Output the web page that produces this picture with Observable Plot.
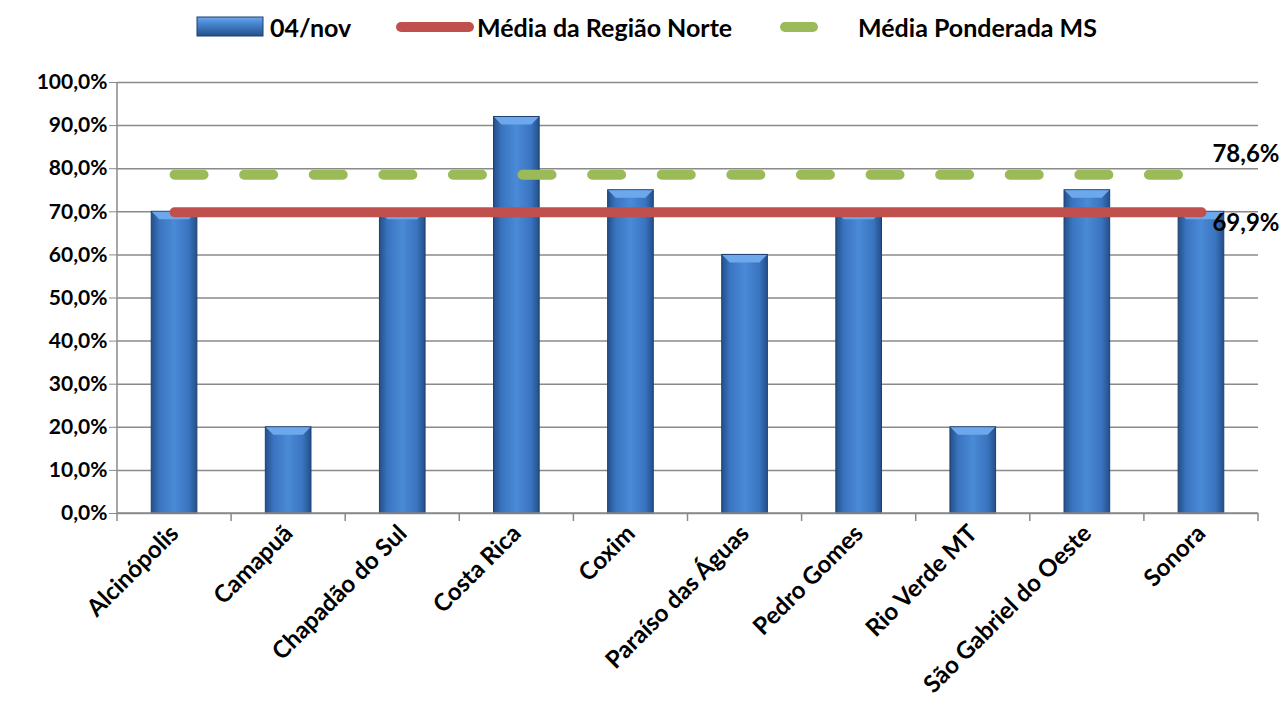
<!DOCTYPE html>
<html><head><meta charset="utf-8">
<script src="https://cdn.jsdelivr.net/npm/d3@7"></script>
<script src="https://cdn.jsdelivr.net/npm/@observablehq/plot@0.6"></script>
<style>
body{margin:0;background:#fff;font-family:Lato,"Open Sans",sans-serif;font-weight:bold;}
#legend{position:relative;height:56px;width:1281px;font-size:25px;color:#000;}
#legend .it{position:absolute;top:12px;line-height:30px;white-space:nowrap;}
#legend svg{position:absolute;}
#chart svg{display:block;}
</style></head><body>
<div id="legend"></div><div id="chart"></div>
<script>
const categories = ["Alcinópolis","Camapuã","Chapadão do Sul","Costa Rica","Coxim","Paraíso das Águas","Pedro Gomes","Rio Verde MT","São Gabriel do Oeste","Sonora"];
const values = [70,20,70,92,75,60,70,20,75,70];
const regionAvg = 69.9;
const msAvg = 78.6;
const yTicks = [0,10,20,30,40,50,60,70,80,90,100];
const seriesNames = ["04/nov","Média da Região Norte","Média Ponderada MS"];
const colors = {bar:"#3f7cc8", region:"#c0504d", ms:"#9bbb59"};

const fmt = d => d.toFixed(1).replace(".", ",") + "%";
const bars = categories.map((c,i)=>({cat:c, v:values[i]}));
const regionLine = categories.map(c=>({cat:c, v:regionAvg}));
const msLine = categories.map(c=>({cat:c, v:msAvg}));
const last = categories[categories.length-1];

const W = 1281, H = 653;
const plot = Plot.plot({
  width: W, height: H,
  marginLeft: 117, marginRight: 23, marginTop: 26, marginBottom: 196,
  style: {fontFamily: "Lato, 'Open Sans', sans-serif", fontWeight: "bold", fontSize: "21px", color: "#000", background: "#fff"},
  x: {domain: categories, paddingInner: 0.6, paddingOuter: 0.3, round: false, label: null},
  y: {domain: [0,100], label: null},
  marks: [
    Plot.gridY(yTicks, {stroke: "#8a8a8a", strokeOpacity: 1, strokeWidth: 1.5}),
    Plot.axisY(yTicks, {tickSize: 8, tickPadding: 2, tickFormat: fmt, stroke: "#8a8a8a", fill: "#000", fontSize: 21, label: null}),
    Plot.axisX({tickSize: 0, tickPadding: 16, tickRotate: -45, fontSize: 24, fill: "#000", label: null}),
    Plot.barY(bars, {x: "cat", y: "v", fill: colors.bar, stroke: "#1d3e6e", strokeWidth: 1, className: "bars"}),
    Plot.line(regionLine, {x: "cat", y: "v", stroke: colors.region, strokeWidth: 10, strokeLinecap: "round"}),
    Plot.line(msLine, {x: "cat", y: "v", stroke: colors.ms, strokeWidth: 10, strokeLinecap: "round", strokeDasharray: "29,40.6"}),
    Plot.text([{cat:last, v:msAvg}], {x:"cat", y:"v", text: d=>fmt(d.v), dx: 11, dy: -20, textAnchor: "start", fontSize: 24, fill:"#000"}),
    Plot.text([{cat:last, v:regionAvg}], {x:"cat", y:"v", text: d=>fmt(d.v), dx: 11, dy: 11, textAnchor: "start", fontSize: 24, fill:"#000"})
  ]
});
document.getElementById("chart").appendChild(plot);

const svg = d3.select(plot);
const defs = svg.insert("defs", ":first-child");
const g = defs.append("linearGradient").attr("id","barGrad").attr("x1","0").attr("x2","1").attr("y1","0").attr("y2","0");
[["0%","#23508a"],["18%","#3a74c0"],["50%","#4a8ad6"],["82%","#3a74c0"],["100%","#23508a"]].forEach(([o,c])=>g.append("stop").attr("offset",o).attr("stop-color",c));
svg.selectAll(".bars rect").attr("fill","url(#barGrad)");
svg.selectAll(".bars rect").each(function(){
  const r = d3.select(this);
  const x = +r.attr("x"), y = +r.attr("y"), w = +r.attr("width");
  d3.select(this.parentNode).append("polygon")
    .attr("points", `${x+0.5},${y+0.5} ${x+w-0.5},${y+0.5} ${x+w-8},${y+8} ${x+8},${y+8}`)
    .attr("fill","#6ea8ec").attr("stroke","none");
});
const xs = plot.scale("x"), ys = plot.scale("y");
const y0 = ys.apply(0), yTop = ys.apply(100);
const left = xs.range[0], right = xs.range[1];
const ax = svg.append("g").attr("stroke","#8a8a8a").attr("stroke-width",1.5);
ax.append("line").attr("x1",left).attr("x2",left).attr("y1",yTop).attr("y2",y0);
ax.append("line").attr("x1",left).attr("x2",right).attr("y1",y0).attr("y2",y0);
for (let i=0;i<=categories.length;i++){
  const bx = left + i*(right-left)/categories.length;
  ax.append("line").attr("x1",bx).attr("x2",bx).attr("y1",y0).attr("y2",y0+8);
}
svg.selectAll("g[aria-label='line'], g[aria-label='text']").raise();

// legend
const leg = d3.select("#legend");
const s1 = leg.append("svg").attr("width",70).attr("height",22).style("left","196px").style("top","16px");
const d1 = s1.append("defs").append("linearGradient").attr("id","legGrad").attr("x1","0").attr("x2","0").attr("y1","0").attr("y2","1");
[["0%","#6ea8ec"],["30%","#4a8ad6"],["100%","#23508a"]].forEach(([o,c])=>d1.append("stop").attr("offset",o).attr("stop-color",c));
s1.append("rect").attr("x",1).attr("y",1).attr("width",66).attr("height",19).attr("fill","url(#legGrad)").attr("stroke","#1d3e6e");
leg.append("div").attr("class","it").style("left","270px").text(seriesNames[0]);
const s2 = leg.append("svg").attr("width",84).attr("height",22).style("left","393px").style("top","16px");
s2.append("line").attr("x1",8).attr("x2",76).attr("y1",11).attr("y2",11).attr("stroke",colors.region).attr("stroke-width",10).attr("stroke-linecap","round");
leg.append("div").attr("class","it").style("left","477px").text(seriesNames[1]);
const s3 = leg.append("svg").attr("width",50).attr("height",22).style("left","775px").style("top","16px");
s3.append("line").attr("x1",10).attr("x2",38).attr("y1",11).attr("y2",11).attr("stroke",colors.ms).attr("stroke-width",10).attr("stroke-linecap","round");
leg.append("div").attr("class","it").style("left","858px").text(seriesNames[2]);
</script>
</body></html>
